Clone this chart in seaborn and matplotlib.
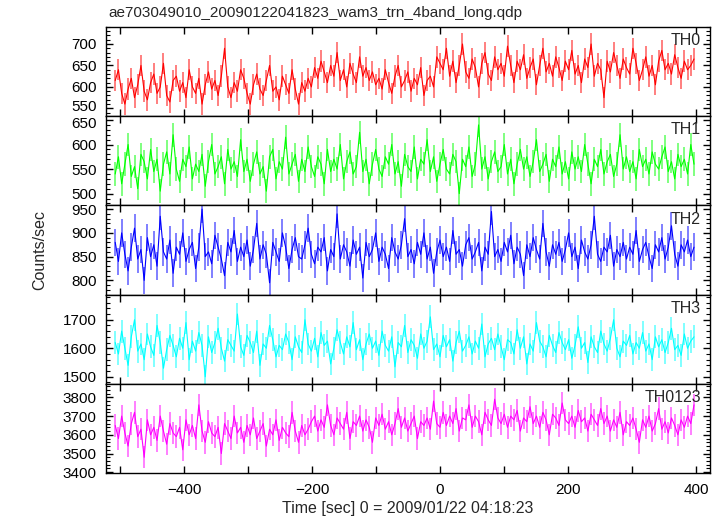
"""Recreate the WAM 4-band light curve (qdp style) with seaborn."""

import matplotlib

matplotlib.use("Agg")
import matplotlib.pyplot as plt
import matplotlib.transforms as mtransforms
import numpy as np
import seaborn as sns
from matplotlib.ticker import MultipleLocator

TITLE = "ae703049010_20090122041823_wam3_trn_4band_long.qdp"
XLABEL = "Time [sec] 0 = 2009/01/22 04:18:23"
YLABEL = "Counts/sec"

BANDS = ["TH0", "TH1", "TH2", "TH3", "TH0123"]
COLORS = ["#ff0000", "#00ff00", "#0000ff", "#00ffff", "#ff00ff"]
T_FIRST, T_LAST = -508, 397

th0 = [
    615, 640, 585, 560, 595, 620, 575, 605, 650, 590, 570, 610, 630, 585, 600, 655, 580, 565, 615, 625,
    590, 610, 575, 640, 600, 585, 620, 560, 605, 635, 595, 615, 580, 625, 690, 600, 575, 610, 590, 640,
    620, 585, 560, 605, 630, 595, 580, 615, 650, 590, 600, 570, 625, 605, 585, 640, 595, 560, 610, 590,
    620, 600,
    645, 620, 660, 635, 610, 650, 625, 680, 615, 640, 600, 655, 630, 610, 670, 625, 645, 615, 635, 605,
    620, 595, 640, 610, 585, 625, 650, 600, 615, 635, 590, 620, 605, 645, 580, 615, 625, 600, 670, 655,
    640, 690, 625, 660, 610, 650, 700, 635, 620, 665, 645, 600, 655, 680, 630, 615, 670, 640, 655, 625,
    695, 650, 610, 660, 640, 675, 620, 645, 665, 605, 650, 690, 635, 655, 625, 670, 645, 615, 660, 640,
    685, 630, 650, 610, 665, 645, 700, 625, 655, 640, 575, 660, 635, 680, 650, 620, 665, 645, 630, 690,
    655, 615, 640, 670, 625, 650, 605, 660, 685, 640, 655, 630, 675, 645, 620, 660, 640, 650, 665,
]
th1 = [
    540, 575, 520, 560, 600, 535, 555, 510, 580, 565, 530, 590, 545, 570, 505, 560, 585, 540, 620, 550,
    525, 570, 555, 595, 530, 560, 545, 580, 515, 565, 600, 540, 555, 575, 520, 590, 550, 565, 535, 610,
    545, 570, 525, 560, 585, 540, 555, 505, 575, 590, 530, 565, 550, 615, 540, 560, 580, 525, 570, 545,
    595, 555, 535, 575, 560, 520, 590, 545, 570, 550, 600, 530, 565, 585, 540, 555, 625, 545, 570, 520,
    560, 590, 550, 535, 575, 560, 600, 540, 565, 515, 580, 555, 545, 595, 530, 570, 560, 610, 545, 575,
    525, 560, 590, 550, 540, 580, 565, 500, 570, 555, 595, 535, 560, 640, 550, 575, 530, 565, 585, 545,
    555, 600, 540, 570, 520, 560, 590, 550, 575, 535, 565, 610, 545, 560, 580, 525, 570, 555, 595, 540,
    565, 530, 585, 550, 575, 545, 600, 560, 520, 570, 555, 590, 540, 565, 580, 535, 560, 620, 550, 575,
    545, 565, 530, 590, 555, 570, 540, 585, 560, 550, 575, 595, 545, 565, 530, 580, 555, 570, 540, 600,
    560,
]
th2 = [
    880, 840, 900, 855, 820, 870, 910, 845, 865, 800, 890, 850, 875, 830, 935, 860, 845, 885, 815, 870,
    855, 900, 840, 865, 880, 825, 870, 950, 850, 860, 835, 895, 870, 845, 810, 880, 860, 905, 840, 870,
    850, 885, 830, 865, 920, 845, 875, 855, 795, 880, 860, 840, 900, 870, 825, 865, 890, 850, 845, 875,
    910, 855, 835, 870, 860, 890, 820, 865, 850, 940, 845, 875, 860, 830, 885, 855, 870, 805, 880, 850,
    865, 900, 840, 870, 855, 825, 890, 860, 845, 875, 930, 850, 865, 835, 880, 855, 900, 845, 870, 815,
    860, 885, 850, 870, 840, 905, 855, 865, 830, 875, 890, 845, 860, 880, 820, 870, 855, 945, 850, 865,
    840, 880, 860, 895, 835, 870, 855, 810, 875, 850, 890, 865, 845, 920, 860, 830, 875, 855, 880, 840,
    865, 900, 850, 870, 825, 885, 860, 845, 875, 935, 855, 840, 870, 860, 895, 830, 865, 850, 880, 845,
    870, 855, 905, 840, 865, 880, 850, 825, 875, 860, 890, 845, 870, 915, 855, 830, 875, 860, 885, 850,
    870,
]
th3 = [
    1620, 1580, 1660, 1600, 1540, 1640, 1700, 1590, 1615, 1560, 1650, 1605, 1575, 1680, 1620, 1530, 1595, 1645, 1610, 1570,
    1635, 1600, 1690, 1560, 1625, 1590, 1655, 1610, 1500, 1640, 1585, 1620, 1670, 1600, 1555, 1630, 1610, 1590, 1720, 1605,
    1575, 1645, 1620, 1585, 1660, 1540, 1615, 1600, 1680, 1630, 1570, 1610, 1595, 1650, 1620, 1560, 1640, 1605, 1585, 1700,
    1615, 1590, 1635, 1570, 1655, 1610, 1625, 1545, 1600, 1665, 1620, 1580, 1640, 1605, 1690, 1595, 1630, 1560, 1615, 1650,
    1600, 1625, 1575, 1660, 1610, 1590, 1640, 1535, 1620, 1605, 1680, 1585, 1630, 1610, 1565, 1650, 1600, 1625, 1710, 1595,
    1615, 1570, 1645, 1605, 1630, 1555, 1620, 1660, 1590, 1610, 1640, 1580, 1625, 1600, 1685, 1570, 1615, 1635, 1595, 1650,
    1605, 1560, 1630, 1620, 1580, 1665, 1600, 1640, 1545, 1615, 1590, 1690, 1625, 1605, 1570, 1645, 1610, 1585, 1655, 1620,
    1595, 1630, 1565, 1610, 1675, 1600, 1620, 1550, 1640, 1605, 1585, 1660, 1615, 1590, 1635, 1700, 1600, 1570, 1625, 1610,
    1645, 1580, 1620, 1600, 1655, 1590, 1615, 1560, 1640, 1605, 1630, 1585, 1620, 1670, 1595, 1610, 1575, 1650, 1600, 1625,
    1640,
]
th0123 = [
    3650, 3580, 3700, 3610, 3540, 3660, 3720, 3590, 3630, 3480, 3680, 3600, 3640, 3570, 3700, 3620, 3550, 3660, 3610, 3590,
    3640, 3520, 3680, 3600, 3650, 3580, 3760, 3620, 3560, 3670, 3610, 3590, 3640, 3500, 3660, 3620, 3580, 3700, 3610, 3640,
    3560, 3650, 3600, 3690, 3580, 3620, 3660, 3540, 3630, 3600, 3680, 3570, 3640, 3610, 3590, 3720, 3620, 3560, 3650, 3600,
    3630, 3670,
    3700, 3620, 3680, 3640, 3760, 3650, 3600, 3690, 3660, 3630, 3720, 3580, 3670, 3650, 3700, 3620, 3680, 3640, 3560, 3690,
    3650, 3710, 3630, 3670, 3600, 3660, 3740, 3640, 3690, 3620, 3660, 3700, 3580, 3670, 3650, 3690, 3630, 3780, 3660, 3640,
    3720, 3650, 3700, 3660, 3740, 3620, 3690, 3680, 3760, 3640, 3700, 3670, 3600, 3720, 3680, 3650, 3790, 3690, 3660, 3710,
    3640, 3700, 3680, 3730, 3620, 3690, 3670, 3750, 3660, 3700, 3640, 3720, 3680, 3600, 3710, 3690, 3650, 3770, 3680, 3660,
    3700, 3640, 3730, 3670, 3690, 3620, 3710, 3680, 3650, 3740,
    3660, 3700, 3620, 3680, 3640, 3720, 3600, 3670, 3650, 3690, 3630, 3560, 3680, 3640, 3700, 3620, 3660, 3740, 3630, 3670,
    3610, 3690, 3650, 3600, 3680, 3640, 3700, 3660, 3760,
]
SERIES = [th0, th1, th2, th3, th0123]
ERRORS = [25, 24, 29, 40, 60]  # 1-sigma per bin

YLIMS = [(532, 740), (476, 658), (770, 958), (1475, 1788), (3395, 3872)]
YMAJOR = [50, 50, 50, 100, 100]
YMINOR = [10, 10, 10, 20, 20]


def main() -> None:
    sns.set_theme(style="ticks")
    plt.rcParams["font.family"] = ["Liberation Sans", "DejaVu Sans"]
    plt.rcParams["font.size"] = 11

    fig, axes = plt.subplots(5, 1, sharex=True, figsize=(7.23, 5.16), dpi=100)
    fig.subplots_adjust(left=0.147, right=0.982, top=0.948, bottom=0.083, hspace=0)

    for ax, name, color, vals, err, ylim, ymaj, ymin in zip(
        axes, BANDS, COLORS, SERIES, ERRORS, YLIMS, YMAJOR, YMINOR
    ):
        t = np.linspace(T_FIRST, T_LAST, len(vals))
        ax.errorbar(t, vals, yerr=err, fmt="none", ecolor=color, alpha=0.5, elinewidth=1.4)
        sns.lineplot(x=t, y=vals, ax=ax, color=color, linewidth=0.8, estimator=None)
        ax.set_ylim(*ylim)
        ax.set_xlim(-522, 422)
        ax.yaxis.set_major_locator(MultipleLocator(ymaj))
        ax.yaxis.set_minor_locator(MultipleLocator(ymin))
        ax.xaxis.set_major_locator(MultipleLocator(200))
        ax.xaxis.set_minor_locator(MultipleLocator(100))
        ax.tick_params(which="both", direction="in", top=True, right=True, labelsize=11,
                       colors="black", pad=7)
        ax.tick_params(which="major", length=5, width=1)
        ax.tick_params(which="minor", axis="y", length=3, width=0.8)
        ax.tick_params(which="minor", axis="x", length=5, width=1)
        for spine in ax.spines.values():
            spine.set_linewidth(1.0)
            spine.set_color("black")
            spine.set_visible(True)
        ax.set_ylabel("")
        ax.text(0.985, 0.93, name, transform=ax.transAxes, ha="right", va="top", fontsize=11.5)

    # the 550 (TH0) and 650 (TH1) labels sit right at the shared edge; nudge them apart a bit
    fig.canvas.draw()
    for ax, shift in [(axes[0], 2), (axes[1], -2)]:
        ticks = [tk for tk in ax.yaxis.get_major_ticks()
                 if ax.get_ylim()[0] <= tk.get_loc() <= ax.get_ylim()[1]]
        tk = ticks[0] if shift > 0 else ticks[-1]
        offset = mtransforms.ScaledTranslation(0, shift / 72, fig.dpi_scale_trans)
        tk.label1.set_transform(tk.label1.get_transform() + offset)

    axes[-1].set_xlabel(XLABEL, fontsize=11.5, labelpad=3)
    fig.text(0.055, 0.515, YLABEL, rotation=90, ha="center", va="center", fontsize=11.5)
    fig.text(108 / 723, 1 - 13 / 516, TITLE, ha="left", va="center", fontsize=11)

    fig.savefig("out.png", dpi=100)
    plt.close(fig)


if __name__ == "__main__":
    main()
